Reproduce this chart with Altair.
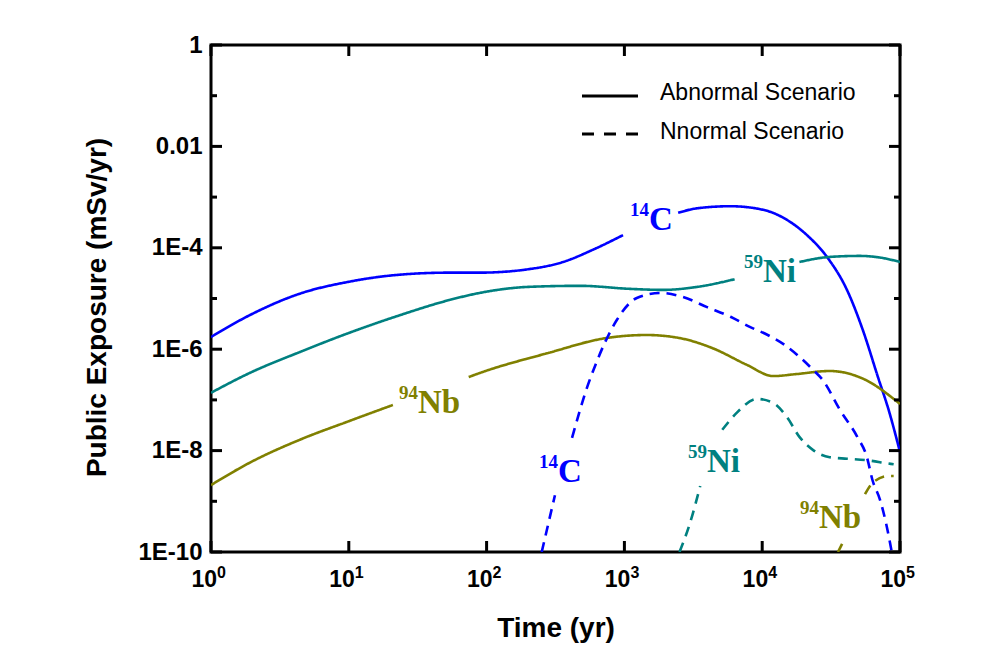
import altair as alt
import pandas as pd

nuclides = ["14C", "59Ni", "94Nb"]
colors = ["#0000FF", "#008080", "#808000"]
scenarios = ["Abnormal Scenario", "Nnormal Scenario"]

# Curves, as log10(time) / log10(dose) pieces (pieces split where a label sits)
c14_abn_t = [[0, 0.28, 0.65, 1.0, 1.37, 1.73, 1.95, 2.31, 2.555, 2.77, 2.99],
             [3.39, 3.53, 3.77, 4.006, 4.18, 4.325, 4.47, 4.615, 4.73, 4.84, 4.92, 5.0]]
c14_abn_d = [[-5.76, -5.33, -4.90, -4.67, -4.53, -4.49, -4.49, -4.42, -4.28, -4.04, -3.75],
             [-3.31, -3.22, -3.18, -3.25, -3.45, -3.75, -4.18, -4.83, -5.62, -6.55, -7.22, -8.03]]

ni59_abn_t = [[0, 0.28, 0.65, 1.0, 1.37, 1.73, 1.95, 2.31, 2.68, 3.04, 3.28, 3.53, 3.80],
              [4.27, 4.49, 4.71, 4.85, 5.0]]
ni59_abn_d = [[-6.86, -6.47, -6.05, -5.68, -5.33, -5.03, -4.89, -4.77, -4.75, -4.81, -4.83, -4.77, -4.62],
              [-4.28, -4.18, -4.16, -4.19, -4.28]]

nb94_abn_t = [[0, 0.28, 0.65, 1.0, 1.32],
              [1.87, 1.95, 2.44, 2.87, 3.16, 3.40, 3.64, 3.89, 4.08, 4.25, 4.49, 4.73, 5.0]]
nb94_abn_d = [[-8.68, -8.24, -7.78, -7.42, -7.10],
              [-6.55, -6.47, -6.08, -5.78, -5.72, -5.78, -5.98, -6.31, -6.53, -6.49, -6.43, -6.58, -7.08]]

c14_nor_t = [[2.40, 2.496],
             [2.62, 2.736, 2.787, 2.86, 2.946, 3.09, 3.26, 3.425, 3.60, 3.77, 3.91, 4.04, 4.165,
              4.27, 4.37, 4.44, 4.565, 4.69, 4.76, 4.80, 4.855, 4.905, 4.94]]
c14_nor_d = [[-10.0, -8.88],
             [-7.75, -6.70, -6.33, -5.86, -5.42, -4.99, -4.89, -4.97, -5.17, -5.36, -5.56, -5.72, -5.92,
              -6.15, -6.41, -6.61, -7.20, -7.73, -8.13, -8.58, -8.97, -9.51, -10.0]]

ni59_nor_t = [[3.40, 3.476, 3.55],
              [3.71, 3.82, 3.96, 4.08, 4.18, 4.27, 4.37, 4.49, 4.615, 4.76, 4.905, 4.954]]
ni59_nor_d = [[-10.0, -9.43, -8.70],
              [-7.59, -7.24, -6.98, -7.06, -7.34, -7.73, -7.99, -8.13, -8.16, -8.19, -8.25, -8.27]]

nb94_nor_t = [[4.55, 4.58],
              [4.746, 4.80, 4.913, 4.954]]
nb94_nor_d = [[-10.0, -9.84],
              [-8.86, -8.64, -8.50, -8.50]]

curves = [
    ("14C", scenarios[0], c14_abn_t, c14_abn_d),
    ("59Ni", scenarios[0], ni59_abn_t, ni59_abn_d),
    ("94Nb", scenarios[0], nb94_abn_t, nb94_abn_d),
    ("14C", scenarios[1], c14_nor_t, c14_nor_d),
    ("59Ni", scenarios[1], ni59_nor_t, ni59_nor_d),
    ("94Nb", scenarios[1], nb94_nor_t, nb94_nor_d),
]

# Curve labels: superscript, symbol, anchor time, anchor dose
label_nuclide = ["14C", "59Ni", "94Nb", "14C", "59Ni", "94Nb"]
label_sup = ["14", "59", "94", "14", "59", "94"]
label_main = ["C", "Ni", "Nb", "C", "Ni", "Nb"]
label_time = [1508, 10134, 31.8, 329.7, 3972, 25820]
label_dose = [2.245e-4, 2.11e-5, 5.52e-8, 2.40e-9, 3.78e-9, 2.97e-10]

x_ticks = [1, 10, 100, 1000, 1e4, 1e5]
x_tick_exp = ["0", "1", "2", "3", "4", "5"]
y_major = [1, 1e-2, 1e-4, 1e-6, 1e-8, 1e-10]
y_minor = [1e-1, 1e-3, 1e-5, 1e-7, 1e-9]

rows = []
for nuc, scen, segs_t, segs_d in curves:
    for k, (ts, ds) in enumerate(zip(segs_t, segs_d)):
        for a, b in zip(ts, ds):
            rows.append({"nuclide": nuc, "scenario": scen, "seg": f"{nuc}|{scen}|{k}",
                         "time": 10 ** a, "dose": 10 ** b})
df = pd.DataFrame(rows)

labels = pd.DataFrame({"nuclide": label_nuclide, "sup": label_sup, "main": label_main,
                       "time": label_time, "dose": label_dose})

W, H = 689, 507

X = alt.X("time:Q",
          scale=alt.Scale(type="log", domain=[1, 1e5], nice=False),
          axis=alt.Axis(values=x_ticks, ticks=False, domain=False, grid=False, labels=False,
                        title="Time (yr)",
                        titleX=W / 2, titleY=84, titleBaseline="alphabetic", titleAlign="center"))
Y = alt.Y("dose:Q",
          scale=alt.Scale(type="log", domain=[1e-10, 1], nice=False),
          axis=alt.Axis(values=y_major, ticks=False, domain=False, grid=False, labelFlush=False,
                        labelExpr="datum.value >= 0.5 ? '1' : datum.value > 0.005 ? '0.01' : '1E-' + round(-log(datum.value)/LN10)",
                        labelPadding=9, title="Public Exposure (mSv/yr)",
                        titleX=-114, titleY=262, titleAngle=-90,
                        titleBaseline="middle", titleAlign="center"))

color = alt.Color("nuclide:N", scale=alt.Scale(domain=nuclides, range=colors), legend=None)

lines = alt.Chart(df).mark_line(strokeWidth=2.6, clip=True, interpolate="monotone").encode(
    x=X, y=Y, color=color,
    strokeDash=alt.StrokeDash("scenario:N", scale=alt.Scale(domain=scenarios, range=[[1, 0], [10, 7]]),
                              legend=None),
    detail="seg:N",
)

sup_text = alt.Chart(labels).mark_text(
    align="right", baseline="alphabetic", font="Liberation Serif", fontWeight="bold",
    fontSize=19, dy=-14
).encode(x=X, y=Y, text="sup:N", color=color)

main_text = alt.Chart(labels).mark_text(
    align="left", baseline="alphabetic", font="Liberation Serif", fontWeight="bold", fontSize=33
).encode(x=X, y=Y, text="main:N", color=color)

xt = pd.DataFrame({"time": x_ticks, "exp": x_tick_exp})
ymaj = pd.DataFrame({"dose": y_major})
ymin = pd.DataFrame({"dose": y_minor})

# x tick labels as 10 with a raised exponent
x_lab_base = alt.Chart(xt).mark_text(
    align="right", baseline="alphabetic", font="Liberation Sans", fontWeight="bold",
    fontSize=23, dx=6, color="black"
).encode(x=X, y=alt.value(H + 35), text=alt.value("10"))
x_lab_exp = alt.Chart(xt).mark_text(
    align="left", baseline="alphabetic", font="Liberation Sans", fontWeight="bold",
    fontSize=16, dx=6, color="black"
).encode(x=X, y=alt.value(H + 26), text="exp:N")

tick_style = dict(color="black", strokeWidth=3)
bottom_ticks = alt.Chart(xt).mark_rule(**tick_style).encode(x=X, y=alt.value(H), y2=alt.value(H - 11))
top_ticks = alt.Chart(xt).mark_rule(**tick_style).encode(x=X, y=alt.value(0), y2=alt.value(11))
left_major = alt.Chart(ymaj).mark_rule(**tick_style).encode(y=Y, x=alt.value(0), x2=alt.value(11))
left_minor = alt.Chart(ymin).mark_rule(**tick_style).encode(y=Y, x=alt.value(0), x2=alt.value(6))
right_major = alt.Chart(ymaj).mark_rule(**tick_style).encode(y=Y, x=alt.value(W), x2=alt.value(W - 11))
right_minor = alt.Chart(ymin).mark_rule(**tick_style).encode(y=Y, x=alt.value(W), x2=alt.value(W - 6))

# Legend (drawn by hand, black line samples)
legend_solid = alt.Chart(pd.DataFrame({"scenario": [scenarios[0]]})).mark_rule(
    color="black", strokeWidth=3).encode(x=alt.value(371), x2=alt.value(427), y=alt.value(51))
legend_dash = alt.Chart(pd.DataFrame({"scenario": [scenarios[1]]})).mark_rule(
    color="black", strokeWidth=3, strokeDash=[12, 10]).encode(x=alt.value(371), x2=alt.value(427), y=alt.value(89))
legend_text1 = alt.Chart(pd.DataFrame({"scenario": [scenarios[0]]})).mark_text(
    align="left", baseline="middle", font="Liberation Sans", fontSize=23, color="black"
).encode(x=alt.value(449), y=alt.value(48), text="scenario:N")
legend_text2 = alt.Chart(pd.DataFrame({"scenario": [scenarios[1]]})).mark_text(
    align="left", baseline="middle", font="Liberation Sans", fontSize=23, color="black"
).encode(x=alt.value(449), y=alt.value(87), text="scenario:N")

chart = alt.layer(
    lines, sup_text, main_text, x_lab_base, x_lab_exp,
    bottom_ticks, top_ticks, left_major, left_minor, right_major, right_minor,
    legend_solid, legend_dash, legend_text1, legend_text2,
).properties(
    width=W, height=H,
    autosize=alt.AutoSizeParams(type="none"),
    padding={"left": 203, "top": 37, "right": 74, "bottom": 105},
).configure_view(stroke="black", strokeWidth=3).configure_axis(
    labelFont="Liberation Sans", labelFontWeight="bold", labelFontSize=24, labelColor="black",
    titleFont="Liberation Sans", titleFontWeight="bold", titleFontSize=28, titleColor="black",
)

chart.save("out.html", embed_options={"renderer": "svg", "actions": False})
